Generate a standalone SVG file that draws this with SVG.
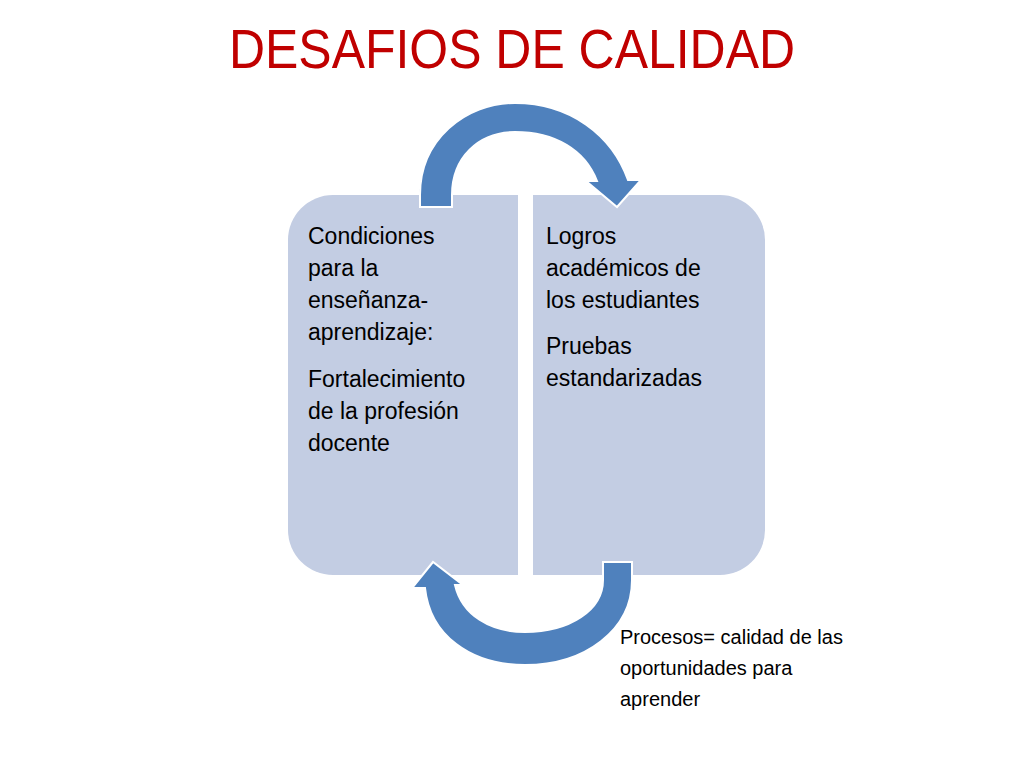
<svg xmlns="http://www.w3.org/2000/svg" width="1024" height="768" viewBox="0 0 1024 768">
<style>
text{font-family:"Liberation Sans",Arial,sans-serif;fill:#000}
.t{font-size:23px}
.box{fill:#c3cde3}
.arr{fill:#4f81bd;stroke:#fff;stroke-width:2}
</style>
<rect width="1024" height="768" fill="#fff"/>
<text x="512" y="68" text-anchor="middle" font-size="56" style="fill:#c00000" textLength="566" lengthAdjust="spacingAndGlyphs">DESAFIOS DE CALIDAD</text>
<g id="node-left">
<path class="box" d="M333,195 H518 V575 H333 A45,45 0 0 1 288,530 V240 A45,45 0 0 1 333,195 Z"/>
<text class="t" x="308" y="244">Condiciones</text>
<text class="t" x="308" y="276">para la</text>
<text class="t" x="308" y="308">enseñanza-</text>
<text class="t" x="308" y="340">aprendizaje:</text>
<text class="t" x="308" y="387">Fortalecimiento</text>
<text class="t" x="308" y="419">de la profesión</text>
<text class="t" x="308" y="451">docente</text>
</g>
<g id="node-right">
<path class="box" d="M533,195 H720 A45,45 0 0 1 765,240 V530 A45,45 0 0 1 720,575 H533 Z"/>
<text class="t" x="546" y="244">Logros</text>
<text class="t" x="546" y="276">académicos de</text>
<text class="t" x="546" y="308">los estudiantes</text>
<text class="t" x="546" y="354">Pruebas</text>
<text class="t" x="546" y="386">estandarizadas</text>
</g>
<g id="connectors">
<path class="arr" d="M420,207 L420,195 C420,140 465,103 515,103 C570,103 612,135 628,180 L641,180 L617,207 L586,181 L597,181 C585,150 555,132 515,132 C478,132 452,158 452,195 L452,207 Z"/>
<path class="arr" d="M632,562 L632,580 C632,630 585,665 525,665 C470,665 430,635 425,588 L412,588 L433,562 L463,585 L455,585 C462,615 490,632 525,632 C570,632 603,610 603,580 L603,562 Z"/>
</g>
<g id="label" font-size="20">
<text x="620" y="644">Procesos= calidad de las</text>
<text x="620" y="675">oportunidades para</text>
<text x="620" y="706">aprender</text>
</g>
</svg>
